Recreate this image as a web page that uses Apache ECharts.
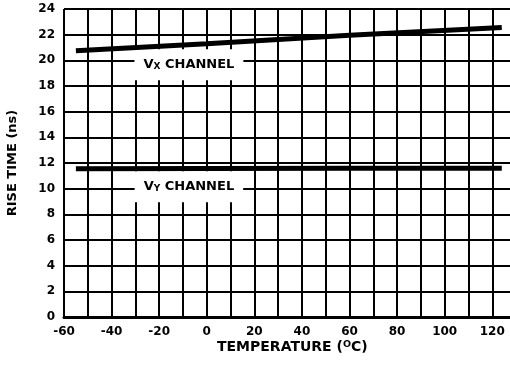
<!DOCTYPE html>
<html>
<head>
<meta charset="utf-8">
<script src="https://cdn.jsdelivr.net/npm/echarts@6/dist/echarts.min.js"></script>
<style>
  html, body { margin: 0; padding: 0; background: #fff; }
  #chart { width: 510px; height: 375px; }
</style>
</head>
<body>
<div id="chart"></div>
<script>
// Rise time versus temperature for the two channels
const vxChannel = [[-55, 20.75], [0, 21.3], [60, 21.95], [124, 22.55]];
const vyChannel = [[-55, 11.55], [0, 11.57], [60, 11.6], [124, 11.6]];

// Channel captions: [temperature, rise time] anchor of each caption box
const vxCaption = [-7.5, 19.65];
const vyCaption = [-7.5, 10.15];

const xTicks = { min: -60, max: 128.3, step: 10, labelStep: 20 };
const yTicks = { min: 0, max: 24, step: 2 };

const font = '"DejaVu Sans", Verdana, sans-serif';

const chart = echarts.init(document.getElementById('chart'));

const captionLabel = (sub) => ({
  show: true,
  position: 'inside',
  formatter: 'V{s|' + sub + '} CHANNEL',
  backgroundColor: '#fff',
  padding: [9, 9],
  color: '#000',
  opacity: 1,
  fontFamily: font,
  fontWeight: 'bold',
  fontSize: 13,
  lineHeight: 13,
  rich: {
    s: { fontSize: 9, fontWeight: 'bold', fontFamily: font, color: '#000',
         verticalAlign: 'bottom', padding: [5, 0, 0, 0], lineHeight: 13 }
  }
});

chart.setOption({
  animation: false,
  backgroundColor: '#fff',
  // the grid runs past the right edge, so the plot is open on that side
  grid: { left: 64, right: -2, top: 9, bottom: 58, outerBoundsMode: 'none', containLabel: false },
  xAxis: {
    type: 'value',
    min: xTicks.min,
    max: xTicks.max,
    interval: xTicks.step,
    axisLine: { show: true, lineStyle: { color: '#000', width: 3 } },
    axisTick: { show: false },
    splitLine: { show: true, lineStyle: { color: '#000', width: 2 } },
    axisLabel: {
      color: '#000', fontFamily: font, fontWeight: 'bold', fontSize: 12, margin: 9,
      formatter: (v) => (v % xTicks.labelStep === 0 && v <= 120) ? String(v) : ''
    }
  },
  yAxis: {
    type: 'value',
    min: yTicks.min,
    max: yTicks.max,
    interval: yTicks.step,
    name: 'RISE TIME (ns)',
    nameLocation: 'middle',
    nameGap: 45,
    nameTextStyle: { color: '#000', fontFamily: font, fontWeight: 'bold', fontSize: 13 },
    axisLine: { show: true, lineStyle: { color: '#000', width: 2 } },
    axisTick: { show: false },
    splitLine: { show: true, lineStyle: { color: '#000', width: 2 } },
    axisLabel: { color: '#000', fontFamily: font, fontWeight: 'bold', fontSize: 12, margin: 9 }
  },
  graphic: [{
    type: 'text',
    left: 217,
    top: 340,
    style: {
      text: 'TEMPERATURE ({sup|O}C)',
      fill: '#000',
      font: 'bold 14px ' + font,
      rich: {
        sup: { fontSize: 9.5, fontWeight: 'bold', fontFamily: font, fill: '#000', verticalAlign: 'top', padding: [0, 0, 5, 0] }
      }
    }
  }],
  series: [
    {
      type: 'scatter',
      data: [vxCaption],
      symbolSize: 0,
      z: 3,
      itemStyle: { opacity: 1 },
      emphasis: { disabled: true },
      label: captionLabel('X')
    },
    {
      type: 'scatter',
      data: [vyCaption],
      symbolSize: 0,
      z: 3,
      itemStyle: { opacity: 1 },
      emphasis: { disabled: true },
      label: captionLabel('Y')
    },
    {
      type: 'line',
      data: vxChannel,
      showSymbol: false,
      z: 4,
      lineStyle: { color: '#000', width: 5 }
    },
    {
      type: 'line',
      data: vyChannel,
      showSymbol: false,
      z: 4,
      lineStyle: { color: '#000', width: 5 }
    }
  ]
});
</script>
</body>
</html>
